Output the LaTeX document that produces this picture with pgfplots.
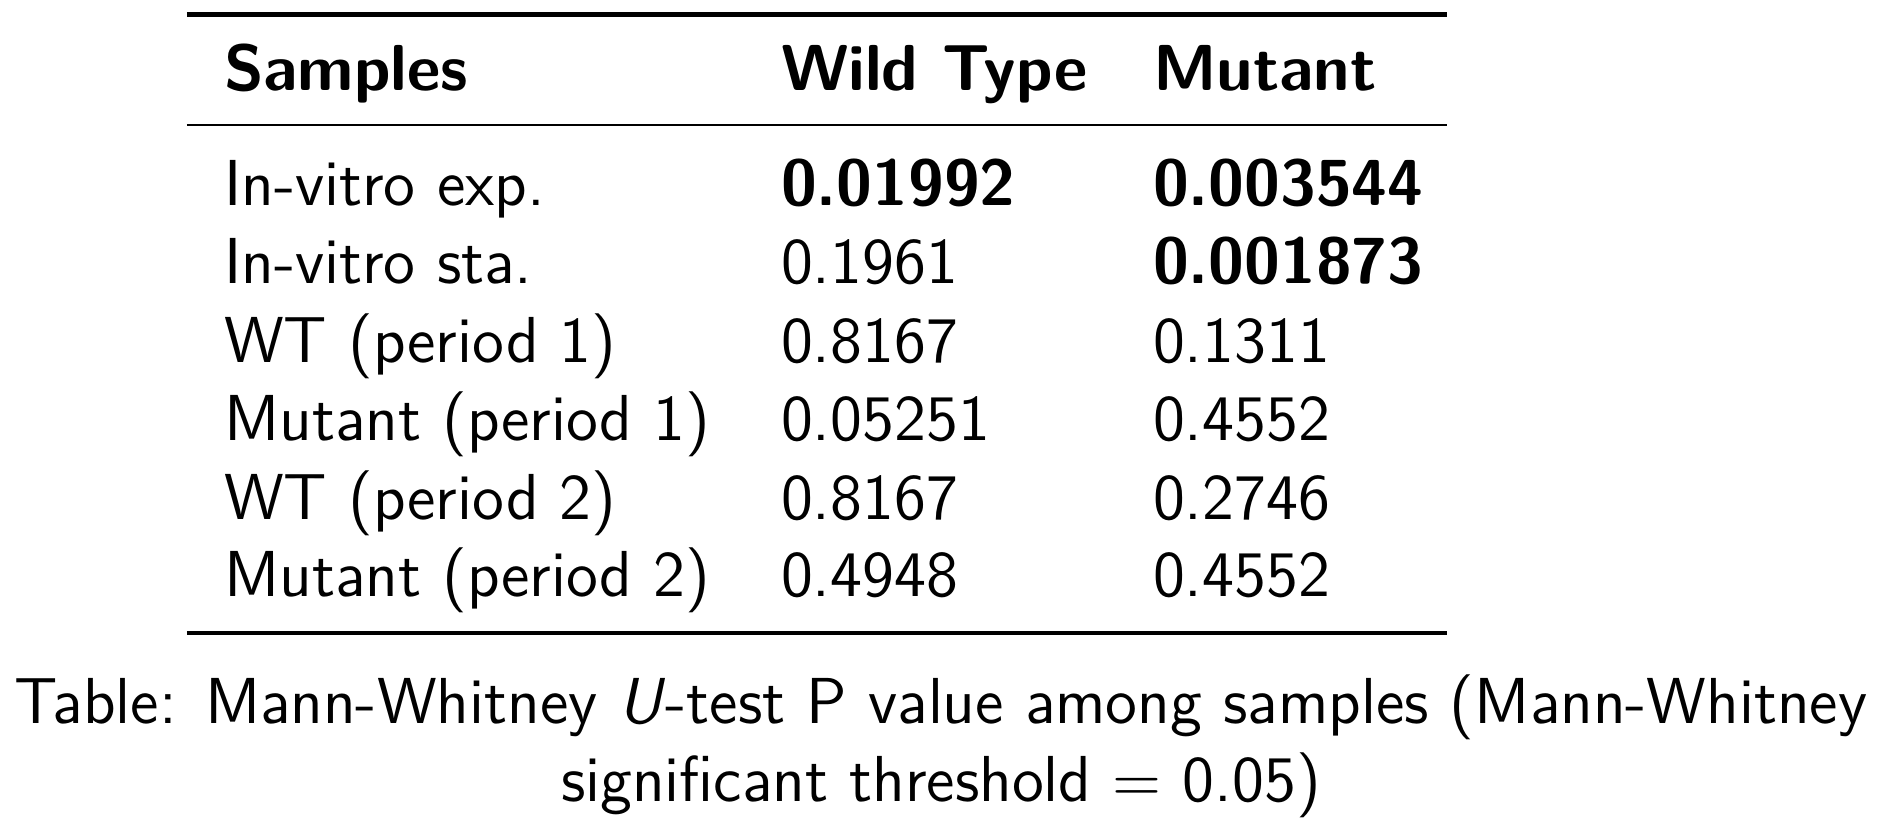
\documentclass[border=0pt]{standalone}
\usepackage{pgfplots}
\pgfplotsset{compat=1.18}
\begin{document}
\sffamily\fontsize{11.3}{13}\selectfont
\begin{tikzpicture}
\begin{axis}[scale only axis, width=11.5cm, height=5.023cm, axis lines=none,
  xmin=0,xmax=1882,ymin=0,ymax=822,y dir=reverse,clip=false,
  nodes={font=\sffamily\fontsize{11.3}{13}\selectfont, inner sep=0pt}]
\addplot[draw=none] coordinates {(0,0)(1882,822)};
\draw[line width=0.8pt] (axis cs:187,14.5) -- (axis cs:1447,14.5);
\draw[line width=0.5pt] (axis cs:187,125) -- (axis cs:1447,125);
\draw[line width=0.8pt] (axis cs:187,633) -- (axis cs:1447,633);
\node[anchor=base west] at (axis cs:223,90) {\bfseries Samples};
\node[anchor=base west] at (axis cs:780,90) {\bfseries Wild Type};
\node[anchor=base west] at (axis cs:1152,90) {\bfseries Mutant};
\node[anchor=base west] at (axis cs:223,205) {In-vitro exp.};
\node[anchor=base west] at (axis cs:780,205) {\bfseries 0.01992};
\node[anchor=base west] at (axis cs:1152,205) {\bfseries 0.003544};
\node[anchor=base west] at (axis cs:223,283) {In-vitro sta.};
\node[anchor=base west] at (axis cs:780,283) {0.1961};
\node[anchor=base west] at (axis cs:1152,283) {\bfseries 0.001873};
\node[anchor=base west] at (axis cs:223,362) {WT (period 1)};
\node[anchor=base west] at (axis cs:780,362) {0.8167};
\node[anchor=base west] at (axis cs:1152,362) {0.1311};
\node[anchor=base west] at (axis cs:223,440) {Mutant (period 1)};
\node[anchor=base west] at (axis cs:780,440) {0.05251};
\node[anchor=base west] at (axis cs:1152,440) {0.4552};
\node[anchor=base west] at (axis cs:223,519) {WT (period 2)};
\node[anchor=base west] at (axis cs:780,519) {0.8167};
\node[anchor=base west] at (axis cs:1152,519) {0.2746};
\node[anchor=base west] at (axis cs:223,597) {Mutant (period 2)};
\node[anchor=base west] at (axis cs:780,597) {0.4948};
\node[anchor=base west] at (axis cs:1152,597) {0.4552};
\node[anchor=base] at (axis cs:941,724) {Table: Mann-Whitney \textit{U}-test P value among samples (Mann-Whitney};
\node[anchor=base] at (axis cs:941,802) {significant threshold $=$ 0.05)};
\end{axis}
\end{tikzpicture}
\end{document}
